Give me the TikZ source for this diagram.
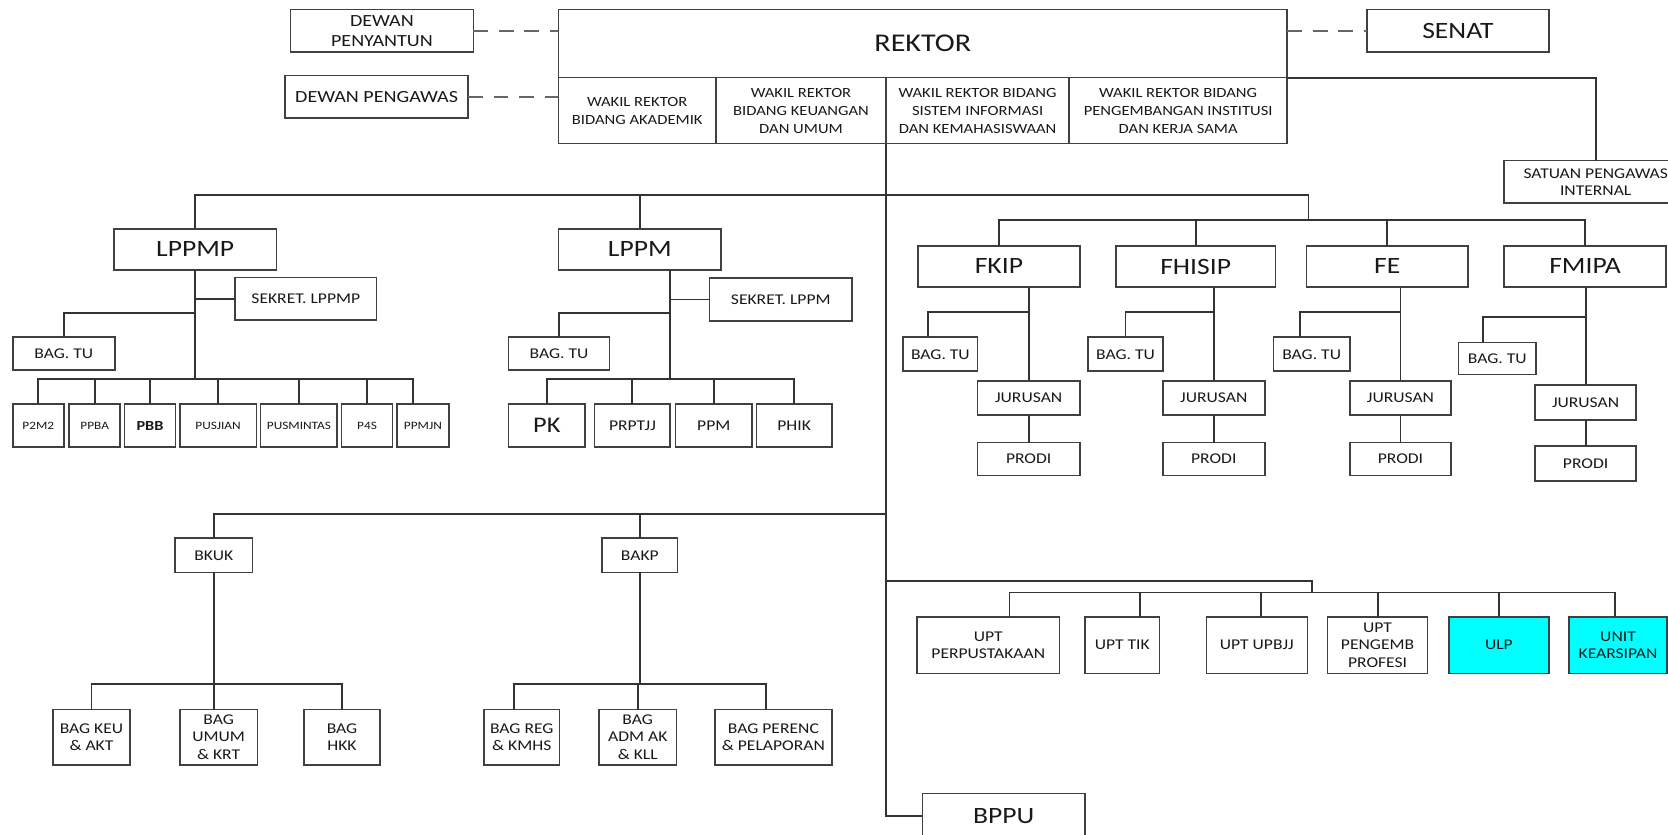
\documentclass[tikz,border=0pt]{standalone}
\usepackage{fontspec}
\setmainfont{Carlito}[FakeStretch=1.18]
\definecolor{unitcyan}{RGB}{0,255,255}
\begin{document}
\begin{tikzpicture}[x=0.5pt,y=-0.5pt,
  every node/.style={rectangle,draw=black!75,line width=.75pt,fill=white,
    text=black!90,inner sep=1pt,outer sep=0pt,align=center},
  titletext/.style={font=\fontsize{11}{13}\selectfont},
  midtext/.style={font=\fontsize{8}{9.4}\selectfont},
  sml/.style={font=\fontsize{7}{8.2}\selectfont},
  wrtext/.style={font=\fontsize{6.6}{8.4}\selectfont},
  tinytext/.style={font=\fontsize{5.3}{6}\selectfont},
  unitfill/.style={fill=unitcyan},
  conn/.style={draw=black!80,line width=.9pt},
  dashline/.style={draw=black!60,line width=.9pt,dash pattern=on 7pt off 5pt}]
\useasboundingbox (0,0) rectangle (1568,784);
\fill[white] (0,0) rectangle (1568,784);
\clip (0,0) rectangle (1568,784);

% pimpinan
\node[midtext,minimum width=86pt,minimum height=20pt] (dps) at (359,29) {DEWAN\\PENYANTUN};
\node[midtext,minimum width=86pt,minimum height=20pt] (dpg) at (354,91) {DEWAN PENGAWAS};
\node[font=\fontsize{12}{14}\selectfont,minimum width=342.5pt,minimum height=32pt] (rektor) at (867.5,41) {REKTOR};
\node[wrtext,minimum width=74pt,minimum height=31pt] (wra) at (599,104) {WAKIL REKTOR\\BIDANG AKADEMIK};
\node[wrtext,minimum width=80pt,minimum height=31pt] (wrb) at (753,104) {WAKIL REKTOR\\BIDANG KEUANGAN\\DAN UMUM};
\node[wrtext,minimum width=86pt,minimum height=31pt] (wrc) at (919,104) {WAKIL REKTOR BIDANG\\SISTEM INFORMASI\\DAN KEMAHASISWAAN};
\node[wrtext,minimum width=102.5pt,minimum height=31pt] (wrd) at (1107.5,104) {WAKIL REKTOR BIDANG\\PENGEMBANGAN INSTITUSI\\DAN KERJA SAMA};
\node[titletext,minimum width=85.5pt,minimum height=20pt] (senat) at (1370.5,29) {SENAT};
\node[sml,minimum width=86pt,minimum height=20pt] (spi) at (1500,171) {SATUAN PENGAWAS\\INTERNAL};

% lppmp
\node[titletext,minimum width=76.5pt,minimum height=19.5pt] (lppmp) at (183.5,234.5) {LPPMP};
\node[sml,minimum width=66.5pt,minimum height=20pt] (sklppmp) at (287.5,281) {SEKRET. LPPMP};
\node[sml,minimum width=48pt,minimum height=15.5pt] (tulppmp) at (60,332.5) {BAG. TU};
\node[tinytext,minimum width=24pt,minimum height=20pt] (p2m2) at (36,400) {P2M2};
\node[tinytext,minimum width=24pt,minimum height=20pt] (ppba) at (89,400) {PPBA};
\node[font=\fontsize{6.5}{7}\selectfont\bfseries,minimum width=24pt,minimum height=20pt] (pbb) at (141,400) {PBB};
\node[tinytext,minimum width=36pt,minimum height=20pt] (pusjian) at (205,400) {PUSJIAN};
\node[tinytext,minimum width=36pt,minimum height=20pt] (pusmintas) at (281,400) {PUSMINTAS};
\node[tinytext,minimum width=24pt,minimum height=20pt] (p4s) at (345,400) {P4S};
\node[tinytext,minimum width=24.5pt,minimum height=20pt] (ppmjn) at (397.5,400) {PPMJN};

% lppm
\node[titletext,minimum width=76.5pt,minimum height=19.5pt] (lppm) at (601.5,234.5) {LPPM};
\node[sml,minimum width=67pt,minimum height=20pt] (sklppm) at (734,281.5) {SEKRET. LPPM};
\node[sml,minimum width=47.5pt,minimum height=15.5pt] (tulppm) at (525.5,332.5) {BAG. TU};
\node[font=\fontsize{10.5}{12}\selectfont,minimum width=36pt,minimum height=20pt] (pk) at (514,400) {PK};
\node[sml,minimum width=35.5pt,minimum height=20pt] (prptjj) at (594.5,400) {PRPTJJ};
\node[sml,minimum width=36pt,minimum height=20pt] (ppm) at (671,400) {PPM};
\node[sml,minimum width=35.5pt,minimum height=20pt] (phik) at (746.5,400) {PHIK};

% fakultas
\node[titletext,minimum width=76pt,minimum height=19.5pt] (fkip) at (939,250.5) {FKIP};
\node[titletext,minimum width=75pt,minimum height=19.5pt] (fhisip) at (1124,250.5) {FHISIP};
\node[titletext,minimum width=76pt,minimum height=19.5pt] (fe) at (1304,250.5) {FE};
\node[titletext,minimum width=76pt,minimum height=19.5pt] (fmipa) at (1490,250.5) {FMIPA};
\node[sml,minimum width=35pt,minimum height=16pt] (tufkip) at (884,333) {BAG. TU};
\node[sml,minimum width=35pt,minimum height=16pt] (tufhisip) at (1058,333) {BAG. TU};
\node[sml,minimum width=36pt,minimum height=16pt] (tufe) at (1233,333) {BAG. TU};
\node[sml,minimum width=36.5pt,minimum height=15pt] (tufmipa) at (1407.5,337) {BAG. TU};
\node[sml,minimum width=48pt,minimum height=16pt] (jfkip) at (967,374) {JURUSAN};
\node[sml,minimum width=48pt,minimum height=16pt] (jfhisip) at (1141,374) {JURUSAN};
\node[sml,minimum width=47.5pt,minimum height=16pt] (jfe) at (1316.5,374) {JURUSAN};
\node[sml,minimum width=47.5pt,minimum height=16.5pt] (jfmipa) at (1490.5,378.5) {JURUSAN};
\node[sml,minimum width=48pt,minimum height=15.5pt] (pfkip) at (967,431.5) {PRODI};
\node[sml,minimum width=48pt,minimum height=15.5pt] (pfhisip) at (1141,431.5) {PRODI};
\node[sml,minimum width=47.5pt,minimum height=15.5pt] (pfe) at (1316.5,431.5) {PRODI};
\node[sml,minimum width=47.5pt,minimum height=16.5pt] (pfmipa) at (1490.5,435.5) {PRODI};

% biro
\node[sml,minimum width=36.5pt,minimum height=16pt] (bkuk) at (201,522) {BKUK};
\node[sml,minimum width=35.5pt,minimum height=16pt] (bakp) at (601.5,522) {BAKP};
\node[sml,minimum width=36pt,minimum height=26pt] (bkeu) at (86,693) {BAG KEU\\\& AKT};
\node[sml,minimum width=36.5pt,minimum height=26pt] (bumum) at (205.5,693) {BAG\\UMUM\\\& KRT};
\node[sml,minimum width=35.5pt,minimum height=26pt] (bhkk) at (321.5,693) {BAG\\HKK};
\node[sml,minimum width=35.5pt,minimum height=26pt] (breg) at (490.5,693) {BAG REG\\\& KMHS};
\node[sml,minimum width=36.5pt,minimum height=26pt] (badm) at (599.5,693) {BAG\\ADM AK\\\& KLL};
\node[sml,minimum width=55pt,minimum height=26pt] (bper) at (727,693) {BAG PERENC\\\& PELAPORAN};

% upt
\node[sml,minimum width=67pt,minimum height=26.5pt] (uperp) at (929,606.5) {UPT\\PERPUSTAKAAN};
\node[sml,minimum width=35pt,minimum height=26.5pt] (utik) at (1055,606.5) {UPT TIK};
\node[sml,minimum width=47.5pt,minimum height=26.5pt] (uupbjj) at (1181.5,606.5) {UPT UPBJJ};
\node[sml,minimum width=47pt,minimum height=26.5pt] (upeng) at (1295,606.5) {UPT\\PENGEMB\\PROFESI};
\node[sml,unitfill,minimum width=47pt,minimum height=26.5pt] (ulp) at (1409,606.5) {ULP};
\node[sml,unitfill,minimum width=46pt,minimum height=26.5pt] (ukear) at (1521,606.5) {UNIT\\KEARSIPAN};
\node[titletext,minimum width=76.5pt,minimum height=21pt] (bppu) at (943.5,767) {BPPU};

% garis
\draw[dashline] (dps.east) -- (dps.east -| rektor.west);
\draw[dashline] (dpg.east) -- (dpg.east -| rektor.west);
\draw[dashline] (rektor.east |- senat.west) -- (senat.west);
\draw[conn] (wrd.north east) -| (spi.north);
\draw[conn] (wrb.south east) |- (bppu.west);

\coordinate (tbus) at (833,183);
\coordinate (fbus) at (1230,207);
\draw[conn] (tbus) -| (lppmp.north);
\draw[conn] (tbus) -| (lppm.north);
\draw[conn] (tbus) -| (fbus);

\coordinate (pbus) at (183.5,356);
\coordinate (ptu) at (183.5,294);
\draw[conn] (lppmp.south) -- (pbus);
\draw[conn] (sklppmp.west) -- (sklppmp.west -| pbus);
\draw[conn] (ptu) -| (tulppmp.north);
\draw[conn] (pbus) -| (p2m2.north);
\draw[conn] (pbus) -| (ppba.north);
\draw[conn] (pbus) -| (pbb.north);
\draw[conn] (pbus) -| (pusjian.north);
\draw[conn] (pbus) -| (pusmintas.north);
\draw[conn] (pbus) -| (p4s.north);
\draw[conn] (pbus) -| ([xshift=-4.5pt]ppmjn.north);

\coordinate (mbus) at (630,356);
\coordinate (mtu) at (630,294);
\draw[conn] (lppm.south -| mbus) -- (mbus);
\draw[conn] (sklppm.west) -- (sklppm.west -| mbus);
\draw[conn] (mtu) -| (tulppm.north);
\draw[conn] (mbus) -| (pk.north);
\draw[conn] (mbus) -| (prptjj.north);
\draw[conn] (mbus) -| (ppm.north);
\draw[conn] (mbus) -| (phik.north);

\draw[conn] (fbus) -| (fkip.north);
\draw[conn] (fbus) -| (fhisip.north);
\draw[conn] (fbus) -| (fe.north);
\draw[conn] (fbus) -| (fmipa.north);
\coordinate (fkj) at (967,293);
\coordinate (fhj) at (1141,293);
\coordinate (fej) at (1316.5,293);
\coordinate (fmj) at (1490.5,298);
\draw[conn] (fkip.south -| jfkip.north) -- (jfkip.north);
\draw[conn] (fhisip.south -| jfhisip.north) -- (jfhisip.north);
\draw[conn] (fe.south -| jfe.north) -- (jfe.north);
\draw[conn] (fmipa.south -| jfmipa.north) -- (jfmipa.north);
\draw[conn] (fkj) -| ([xshift=-6pt]tufkip.north);
\draw[conn] (fhj) -| (tufhisip.north);
\draw[conn] (fej) -| ([xshift=-5.5pt]tufe.north);
\draw[conn] (fmj) -| ([xshift=-6.5pt]tufmipa.north);
\draw[conn] (jfkip.south) -- (pfkip.north);
\draw[conn] (jfhisip.south) -- (pfhisip.north);
\draw[conn] (jfe.south) -- (pfe.north);
\draw[conn] (jfmipa.south) -- (pfmipa.north);

\coordinate (bbus) at (833,483);
\draw[conn] (bbus) -| (bkuk.north);
\draw[conn] (bbus) -| (bakp.north);
\coordinate (kbus) at (201,643);
\coordinate (abus) at (601.5,643);
\draw[conn] (bkuk.south) -- (kbus);
\draw[conn] (kbus) -| (bkeu.north);
\draw[conn] (kbus) -| ([xshift=-2pt]bumum.north);
\draw[conn] (kbus) -| (bhkk.north);
\draw[conn] (bakp.south) -- (abus);
\draw[conn] (abus) -| ([xshift=-3.5pt]breg.north);
\draw[conn] (abus) -| (badm.north);
\draw[conn] (abus) -| ([xshift=-3.5pt]bper.north);

\coordinate (ujn) at (833,546);
\coordinate (ubus) at (1233,557);
\draw[conn] (ujn) -| (ubus);
\draw[conn] (ubus) -| ([xshift=10pt]uperp.north);
\draw[conn] (ubus) -| ([xshift=8.5pt]utik.north);
\draw[conn] (ubus) -| ([xshift=2pt]uupbjj.north);
\draw[conn] (ubus) -| (upeng.north);
\draw[conn] (ubus) -| (ulp.north);
\draw[conn] (ubus) -| ([xshift=-1.5pt]ukear.north);
\end{tikzpicture}
\end{document}
